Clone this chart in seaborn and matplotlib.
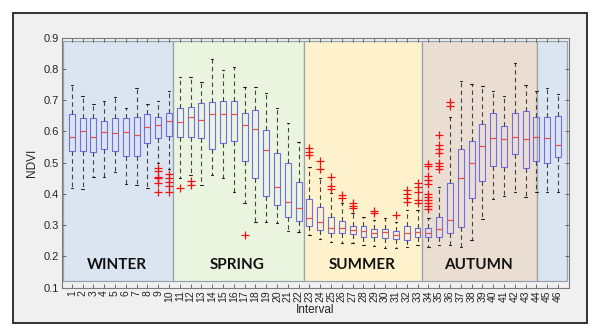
import numpy as np
import pandas as pd
import matplotlib
matplotlib.use("Agg")
import matplotlib.pyplot as plt
from matplotlib.patches import Rectangle
import seaborn as sns

# ---------------- data ----------------
intervals = list(range(1, 47))
whisker_low = [0.418, 0.415, 0.453, 0.453, 0.471, 0.432, 0.429, 0.418, 0.500, 0.480,
               0.450, 0.461, 0.429, 0.461, 0.450, 0.407, 0.370, 0.311, 0.311, 0.306,
               0.281, 0.279, 0.269, 0.255, 0.247, 0.244, 0.242, 0.237, 0.233, 0.226,
               0.226, 0.230, 0.237, 0.231, 0.237, 0.237, 0.231, 0.253, 0.319, 0.383,
               0.394, 0.407, 0.391, 0.407, 0.407, 0.407]
q1 = [0.537, 0.537, 0.533, 0.543, 0.538, 0.521, 0.521, 0.562, 0.579, 0.585,
      0.581, 0.583, 0.578, 0.545, 0.564, 0.570, 0.504, 0.450, 0.393, 0.365,
      0.327, 0.313, 0.298, 0.285, 0.274, 0.274, 0.271, 0.261, 0.261, 0.258,
      0.255, 0.253, 0.263, 0.261, 0.263, 0.276, 0.295, 0.386, 0.442, 0.489,
      0.487, 0.527, 0.482, 0.505, 0.500, 0.519]
median = [0.582, 0.601, 0.583, 0.598, 0.594, 0.597, 0.590, 0.614, 0.622, 0.633,
          0.631, 0.647, 0.637, 0.655, 0.657, 0.657, 0.621, 0.608, 0.541, 0.423,
          0.375, 0.354, 0.324, 0.311, 0.290, 0.290, 0.285, 0.281, 0.276, 0.279,
          0.269, 0.276, 0.277, 0.276, 0.287, 0.317, 0.450, 0.498, 0.553, 0.578,
          0.575, 0.583, 0.575, 0.583, 0.580, 0.557]
q3 = [0.655, 0.644, 0.642, 0.634, 0.644, 0.642, 0.645, 0.657, 0.647, 0.660,
      0.674, 0.677, 0.690, 0.695, 0.698, 0.696, 0.660, 0.668, 0.604, 0.532,
      0.500, 0.439, 0.384, 0.359, 0.325, 0.314, 0.298, 0.297, 0.288, 0.287,
      0.282, 0.297, 0.292, 0.292, 0.327, 0.434, 0.543, 0.569, 0.624, 0.658,
      0.618, 0.660, 0.665, 0.645, 0.647, 0.650]
whisker_high = [0.748, 0.713, 0.688, 0.697, 0.711, 0.676, 0.738, 0.688, 0.697, 0.730,
                0.775, 0.775, 0.759, 0.832, 0.797, 0.807, 0.743, 0.741, 0.724, 0.674,
                0.628, 0.567, 0.487, 0.450, 0.402, 0.370, 0.340, 0.325, 0.317, 0.322,
                0.311, 0.349, 0.349, 0.322, 0.423, 0.647, 0.761, 0.752, 0.745, 0.729,
                0.714, 0.820, 0.749, 0.729, 0.738, 0.719]

outlier_interval = [9, 9, 9, 9, 9, 9,
                    10, 10, 10, 10, 10,
                    11, 12, 12, 17,
                    23, 23, 23, 24, 24,
                    25, 25, 25, 26, 26,
                    27, 27, 27, 29, 29, 31,
                    32, 32, 32, 32,
                    33, 33, 33, 33, 33,
                    34, 34, 34, 34, 34, 34, 34, 34, 34, 34, 34,
                    35, 35, 35, 35, 35, 35, 35,
                    36, 36]
outlier_value = [0.483, 0.474, 0.455, 0.450, 0.434, 0.407,
                 0.464, 0.450, 0.439, 0.425, 0.407,
                 0.418, 0.442, 0.429, 0.269,
                 0.546, 0.535, 0.525, 0.505, 0.478,
                 0.455, 0.425, 0.415, 0.397, 0.386,
                 0.372, 0.361, 0.354, 0.346, 0.338, 0.333,
                 0.411, 0.398, 0.386, 0.374,
                 0.434, 0.421, 0.407, 0.381, 0.370,
                 0.495, 0.488, 0.458, 0.445, 0.430, 0.400, 0.390, 0.380, 0.370, 0.360, 0.350,
                 0.587, 0.557, 0.545, 0.530, 0.498, 0.488, 0.478,
                 0.695, 0.681]

seasons = ["WINTER", "SPRING", "SUMMER", "AUTUMN", ""]
season_start = [0.22, 10.34, 22.49, 33.43, 44.10]
season_end = [10.34, 22.49, 33.43, 44.10, 46.79]
season_colors = ["#dbe5f1", "#ebf4df", "#fef2cd", "#eaddd2", "#dbe5f1"]
season_label_x = [5.2, 16.3, 27.9, 38.6, None]

yticks = [0.1, 0.2, 0.3, 0.4, 0.5, 0.6, 0.7, 0.8, 0.9]

# ---------------- long-form table for seaborn ----------------
rows = []
for i, lo, a, m, b, hi in zip(intervals, whisker_low, q1, median, q3, whisker_high):
    for v in (lo, a, a, m, b, b, hi):
        rows.append({"Interval": i, "NDVI": v})
df = pd.DataFrame(rows)
out_df = pd.DataFrame({"Interval": outlier_interval, "NDVI": outlier_value})

# ---------------- plotting ----------------
sns.set_style("ticks")
plt.rcParams["font.family"] = ["Liberation Sans", "DejaVu Sans"]

fig = plt.figure(figsize=(6.0, 3.36), dpi=100)
fig.patch.set_facecolor("white")
fig.patches.append(Rectangle((0.021, 0.039), 0.957, 0.923, transform=fig.transFigure,
                             facecolor="#f0f0f0", edgecolor="#222222", linewidth=1.3,
                             zorder=-10))
ax = fig.add_axes([0.103, 0.144, 0.845, 0.744])
ax.set_facecolor("#f0f0f0")

for s0, s1, c in zip(season_start, season_end, season_colors):
    ax.add_patch(Rectangle((s0, 0.12), s1 - s0, 0.77, facecolor=c,
                           edgecolor="#97a3b0", linewidth=0.9, zorder=0))

blue = "#6f6fe6"
sns.boxplot(data=df, x="Interval", y="NDVI", native_scale=True, fill=False,
            whis=(0, 100), width=0.55, color=blue, linewidth=0.8, ax=ax,
            boxprops=dict(color=blue, linewidth=0.8),
            medianprops=dict(color="#e8504a", linewidth=0.9),
            whiskerprops=dict(color="#444444", linestyle=(0, (4, 3)), linewidth=0.8),
            capprops=dict(color="#222222", linewidth=0.8),
            capwidths=0.22,
            showfliers=False, zorder=3)

sns.scatterplot(data=out_df, x="Interval", y="NDVI", marker="+", color="#ee1111",
                s=30, linewidth=0.9, ax=ax, zorder=4, legend=False)

for name, xpos in zip(seasons, season_label_x):
    if name:
        ax.text(xpos, 0.173, name, ha="center", va="center", fontsize=11,
                fontweight="bold", family=["Lato", "DejaVu Sans"], color="#111111",
                zorder=5)

ax.set_xlim(0.08, 47.0)
ax.set_ylim(0.1, 0.9)
ax.set_xticks(intervals)
ax.set_xticklabels([str(i) for i in intervals], rotation=90, fontsize=7.5)
ax.set_yticks(yticks)
ax.set_yticklabels([f"{t:.1f}" for t in yticks], fontsize=8)
ax.tick_params(direction="in", top=True, right=True, length=3, width=0.6,
               color="#555555", pad=2)
for sp in ax.spines.values():
    sp.set_color("#7a7a7a")
    sp.set_linewidth(0.8)
    sp.set_visible(True)
ax.set_xlabel("Interval", fontsize=8.5, labelpad=1)
ax.set_ylabel("NDVI", fontsize=8.5, labelpad=4)

fig.savefig("out.png", dpi=100, facecolor=fig.get_facecolor())
